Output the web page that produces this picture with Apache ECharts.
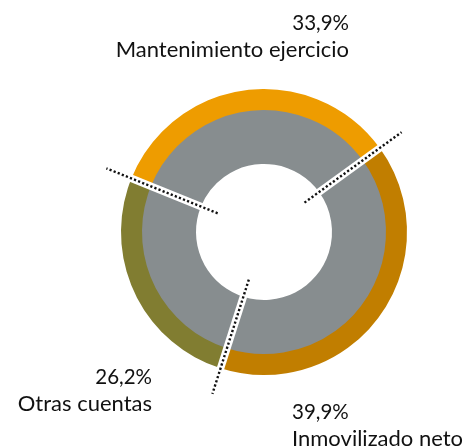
<!DOCTYPE html>
<html>
<head>
<meta charset="utf-8">
<script src="https://cdn.jsdelivr.net/npm/echarts@6/dist/echarts.min.js"></script>
<style>
  html, body { margin: 0; padding: 0; background: #fff; }
  #chart { width: 467px; height: 447px; }
</style>
</head>
<body>
<div id="chart"></div>
<script>
// data
var categories = ['Mantenimiento ejercicio', 'Inmovilizado neto', 'Otras cuentas'];
var values = [33.9, 39.9, 26.2];
var valueLabels = ['33,9%', '39,9%', '26,2%'];
var colors = ['#ee9c00', '#c17e00', '#817d31'];

var cx = 264, cy = 232;
var startAngle = 158;

var chart = echarts.init(document.getElementById('chart'));

// boundary angles between slices (clockwise from startAngle)
var total = values.reduce(function (a, b) { return a + b; }, 0);
var bounds = [];
var acc = startAngle;
values.forEach(function (v) {
    bounds.push(acc);
    acc -= v / total * 360;
});

function pt(angle, r) {
    var a = angle * Math.PI / 180;
    return [cx + r * Math.cos(a), cy - r * Math.sin(a)];
}

var graphics = [];
bounds.forEach(function (ang) {
    var p1 = pt(ang, 40), p2 = pt(ang, 150);
    graphics.push({
        type: 'line', z: 100,
        shape: {x1: p1[0], y1: p1[1], x2: p2[0], y2: p2[1]},
        style: {stroke: '#fff', lineWidth: 7.5}
    });
    var d1 = pt(ang, 50), d2 = pt(ang, 170);
    graphics.push({
        type: 'line', z: 101,
        shape: {x1: d1[0], y1: d1[1], x2: d2[0], y2: d2[1]},
        style: {stroke: '#111', lineWidth: 2.4, lineDash: [2.2, 2.2]}
    });
});

// labels: value label on top, category name below
var labelPos = [
    {x: 349, y: 34, align: 'right'},
    {x: 292, y: 423, align: 'left'},
    {x: 152, y: 388, align: 'right'}
];
var font = '"Lato", "Open Sans", sans-serif';
categories.forEach(function (name, i) {
    var p = labelPos[i];
    graphics.push({
        type: 'text', z: 102,
        style: {
            x: p.x, y: p.y, text: valueLabels[i], fill: '#111',
            font: '20.5px ' + font, textAlign: p.align, textVerticalAlign: 'bottom'
        }
    });
    graphics.push({
        type: 'text', z: 102,
        style: {
            x: p.x, y: p.y + 27, text: name, fill: '#111',
            font: '22px ' + font, textAlign: p.align, textVerticalAlign: 'bottom'
        }
    });
});

var option = {
    animation: false,
    backgroundColor: '#fff',
    series: [
        {
            type: 'pie',
            center: [cx, cy],
            radius: [121, 143],
            startAngle: startAngle,
            clockwise: true,
            label: {show: false},
            labelLine: {show: false},
            silent: true,
            data: categories.map(function (c, i) {
                return {name: c, value: values[i], itemStyle: {color: colors[i]}};
            })
        },
        {
            type: 'pie',
            center: [cx, cy],
            radius: [68, 122],
            startAngle: startAngle,
            clockwise: true,
            label: {show: false},
            labelLine: {show: false},
            silent: true,
            itemStyle: {color: '#878d8f'},
            data: categories.map(function (c, i) {
                return {name: c, value: values[i]};
            })
        }
    ],
    graphic: graphics
};

chart.setOption(option);
</script>
</body>
</html>
